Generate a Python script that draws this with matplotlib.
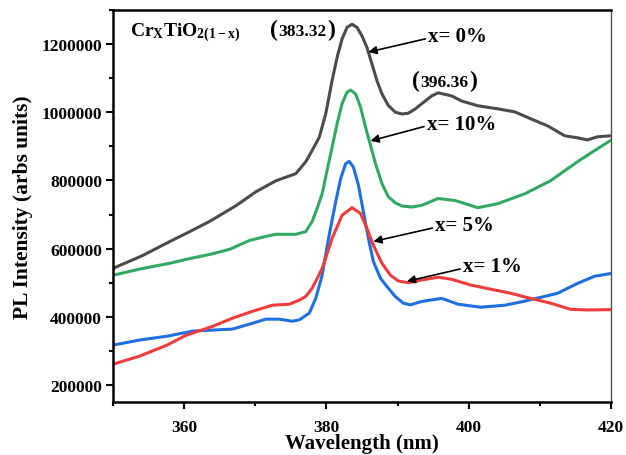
import numpy as np
import matplotlib
matplotlib.use('Agg')
import matplotlib.pyplot as plt
from matplotlib.ticker import MultipleLocator, FormatStrFormatter
from matplotlib.offsetbox import TextArea, HPacker, AnnotationBbox

plt.rcParams['font.family'] = 'Liberation Serif'
plt.rcParams['font.weight'] = 'bold'
plt.rcParams['mathtext.fontset'] = 'custom'
plt.rcParams['mathtext.rm'] = 'Liberation Serif:bold'
plt.rcParams['mathtext.it'] = 'Liberation Serif:bold'

# x = 0 %
wl_0 = [350.0, 354.2, 358.0, 360.8, 363.6, 367.3, 370.1, 372.9, 375.7, 377.1, 378.0, 379.0,
        379.9, 380.8, 381.5, 382.2, 382.9, 383.6, 384.3, 385.0, 385.7, 386.4, 387.1, 387.8,
        388.7, 389.7, 390.6, 391.5, 392.5, 393.4, 394.8, 395.7, 397.6, 399.0, 401.3, 404.1,
        406.5, 408.7, 411.1, 413.5, 415.3, 416.7, 418.1, 420.0]
pl_0 = [542000, 580000, 621000, 650000, 680000, 726000, 767000, 799000, 820000, 855000, 888000, 927000,
        995000, 1093000, 1161000, 1215000, 1249000, 1258000, 1249000, 1224000, 1190000, 1142000, 1093000, 1054000,
        1020000, 1000000, 995000, 997000, 1010000, 1025000, 1048000, 1057000, 1048000, 1033000, 1019000, 1010000,
        1001000, 981000, 960000, 931000, 925000, 919000, 928000, 931000]

# x = 10 %
wl_10 = [350.0, 354.2, 358.0, 360.8, 363.6, 366.4, 369.2, 371.5, 372.9, 375.7, 377.1, 378.0,
         378.7, 379.4, 380.1, 380.8, 381.5, 382.2, 382.9, 383.4, 384.1, 384.8, 385.5, 386.2,
         386.9, 387.8, 388.7, 389.7, 390.6, 392.0, 393.4, 395.7, 398.1, 401.3, 404.1, 407.9,
         411.5, 415.3, 418.1, 420.0]
pl_10 = [522000, 542000, 557000, 571000, 583000, 598000, 624000, 636000, 642000, 642000, 650000, 680000,
         718000, 761000, 830000, 898000, 966000, 1025000, 1059000, 1065000, 1054000, 1015000, 956000, 903000,
         849000, 791000, 752000, 734000, 725000, 722000, 727000, 747000, 741000, 720000, 732000, 761000,
         799000, 855000, 893000, 918000]

# x = 5 %
wl_5 = [350.0, 353.8, 357.6, 361.2, 364.0, 366.8, 369.6, 371.5, 373.4, 375.2, 376.2, 377.6,
        378.5, 379.4, 380.3, 381.3, 382.0, 382.7, 383.2, 383.8, 384.5, 385.2, 385.9, 386.6,
        387.6, 388.5, 389.7, 390.8, 391.8, 393.4, 396.2, 398.5, 401.7, 405.1, 407.9, 410.7,
        412.5, 415.3, 417.7, 420.0]
pl_5 = [317000, 332000, 343000, 358000, 361000, 364000, 381000, 393000, 393000, 387000, 391000, 411000,
        454000, 522000, 630000, 737000, 805000, 849000, 856000, 839000, 786000, 708000, 630000, 562000,
        513000, 489000, 459000, 440000, 435000, 445000, 454000, 437000, 428000, 434000, 446000, 460000,
        469000, 498000, 519000, 527000]

# x = 1 %
wl_1 = [350.0, 353.8, 357.6, 360.3, 364.0, 366.8, 369.6, 372.4, 374.8, 376.2, 377.1, 378.0,
        379.4, 380.8, 382.2, 383.6, 384.8, 385.7, 386.6, 387.8, 389.0, 390.1, 391.5, 393.4,
        395.7, 397.6, 400.3, 403.1, 405.9, 408.7, 411.5, 414.3, 416.7, 420.0]
pl_1 = [261000, 285000, 317000, 346000, 372000, 396000, 416000, 434000, 437000, 449000, 460000, 484000,
        542000, 630000, 698000, 720000, 703000, 659000, 610000, 557000, 522000, 505000, 500000, 508000,
        516000, 510000, 493000, 481000, 469000, 454000, 440000, 422000, 420000, 421000]

fig = plt.figure(figsize=(6.26, 4.56), dpi=100)
ax = fig.add_axes([0.1805, 0.1162, 0.7955, 0.8597])

kw = dict(lw=2.2, solid_joinstyle='round', solid_capstyle='round')
ax.plot(wl_0, pl_0, color='#4b4b4b', **kw)
ax.plot(wl_10, pl_10, color='#33a862', **kw)
ax.plot(wl_5, pl_5, color='#1f6fe3', **kw)
ax.plot(wl_1, pl_1, color='#f03c3c', **kw)

ax.set_xlim(350, 420)
ax.set_ylim(150000, 1300000)
ax.xaxis.set_major_locator(MultipleLocator(20))
ax.xaxis.set_minor_locator(MultipleLocator(10))
ax.yaxis.set_major_locator(MultipleLocator(200000))
ax.yaxis.set_minor_locator(MultipleLocator(100000))
ax.yaxis.set_major_formatter(FormatStrFormatter('%d'))
ax.tick_params(which='major', direction='out', length=5, width=1.5, labelsize=12.5, pad=3)
ax.tick_params(axis='x', which='major', pad=7)
ax.tick_params(which='minor', direction='out', length=3, width=1.5)
ax.tick_params(top=False, right=False)
for s in ['left', 'bottom', 'top']:
    ax.spines[s].set_linewidth(1.8)
ax.spines['right'].set_linewidth(1.0)
ax.spines['right'].set_color('#555555')

ax.set_xlabel('Wavelength (nm)', fontsize=15, fontweight='bold', labelpad=-1)
ax.set_ylabel('PL Intensity (arbs units)', fontsize=15.5, fontweight='bold', labelpad=6)

ax.text(352.4, 1235000, r'$\mathrm{Cr_{X}TiO_{2(1-x)}}$', fontsize=14, va='center', ha='left')


def peak_label(x, y, s):
    parts = [TextArea('(', textprops=dict(size=17, weight='bold')),
             TextArea(s, textprops=dict(size=12.5, weight='bold')),
             TextArea(')', textprops=dict(size=17, weight='bold'))]
    box = HPacker(children=parts, align='baseline', pad=0, sep=0.5)
    ab = AnnotationBbox(box, (x, y), frameon=False, box_alignment=(0.5, 0.5), pad=0)
    ax.add_artist(ab)


peak_label(376.6, 1244000, '383.32')
peak_label(396.6, 1092000, '396.36')

arrow = dict(arrowstyle='-|>', color='k', lw=1.2, mutation_scale=12, shrinkA=0, shrinkB=0, relpos=(0, 0.4))
ax.annotate('x= 0%', xy=(385.9, 1176600), xytext=(394.3, 1223000), fontsize=15, fontweight='bold',
            va='center', ha='left', arrowprops=arrow)
ax.annotate('x= 10%', xy=(386.2, 916000), xytext=(394.1, 966000), fontsize=15, fontweight='bold',
            va='center', ha='left', arrowprops=arrow)
ax.annotate('x= 5%', xy=(386.6, 621000), xytext=(395.3, 668000), fontsize=15, fontweight='bold',
            va='center', ha='left', arrowprops=arrow)
ax.annotate('x= 1%', xy=(391.3, 504000), xytext=(399.2, 548000), fontsize=15, fontweight='bold',
            va='center', ha='left', arrowprops=arrow)

plt.savefig('out.png', dpi=100)
